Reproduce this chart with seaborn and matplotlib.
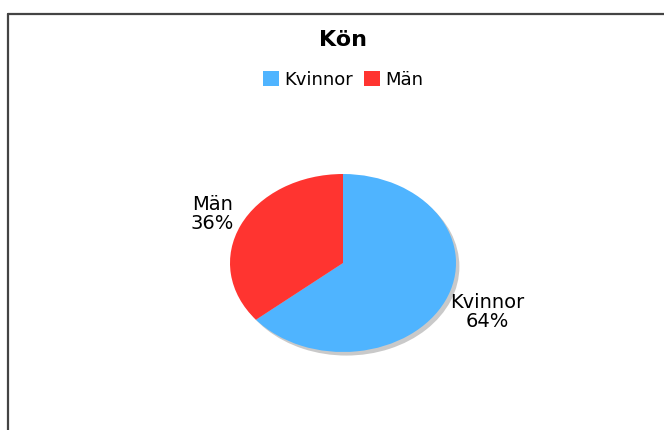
import seaborn as sns
import matplotlib.pyplot as plt
from matplotlib.patches import Patch
from matplotlib.lines import Line2D

sns.set_theme(style='white')
plt.rcParams['font.family'] = ['DejaVu Sans']
plt.rcParams['text.color'] = 'black'

# Data
categories = ['Kvinnor', 'Män']
shares = [64, 36]
colors = ['#4fb4ff', '#ff3430']

fig = plt.figure(figsize=(6.64, 4.30), dpi=100)

# frame lines (left + top only)
fig.add_artist(Line2D([8 / 664, 8 / 664], [0, 1 - 13.5 / 430], color='#444444', lw=1.6))
fig.add_artist(Line2D([8 / 664, 1], [1 - 13.5 / 430, 1 - 13.5 / 430], color='#444444', lw=1.6))

# elliptical pie: axes sized to the ellipse
ax = fig.add_axes([230 / 664, (430 - 352) / 430, 226 / 664, 178 / 430])
ax.set_axis_off()

# shadow
ax.pie([1], colors=['#c9c9c9'], radius=1, center=(0.03, -0.04), startangle=90,
       wedgeprops={'linewidth': 0})

labels = [f"{c}\n{s}%" for c, s in zip(categories, shares)]
wedges, texts = ax.pie(shares, labels=labels, colors=colors, startangle=90,
                       counterclock=False, labeldistance=1.28,
                       wedgeprops={'linewidth': 0},
                       textprops={'fontsize': 14, 'color': 'black'})
for t in texts:
    t.set_ha('center')
    t.set_va('center')
    t.set_linespacing(1.0)
# right-hand label sits a little further out
x, y = texts[0].get_position()
texts[0].set_position((x * 1.1, y))

ax.set_aspect('auto')
ax.set_xlim(-1, 1)
ax.set_ylim(-1, 1)

fig.text(343 / 664, 1 - 40 / 430, 'Kön', ha='center', va='center',
         fontsize=16, fontweight='bold', color='black')

handles = [Patch(facecolor=c, edgecolor='none') for c in colors]
fig.legend(handles, categories, loc='center', bbox_to_anchor=(343 / 664, 1 - 80 / 430),
           ncol=2, frameon=False, fontsize=13, handlelength=0.9, handleheight=0.9,
           handletextpad=0.3, columnspacing=0.6, labelcolor='black')

fig.savefig('out.png', dpi=100, facecolor='white')
